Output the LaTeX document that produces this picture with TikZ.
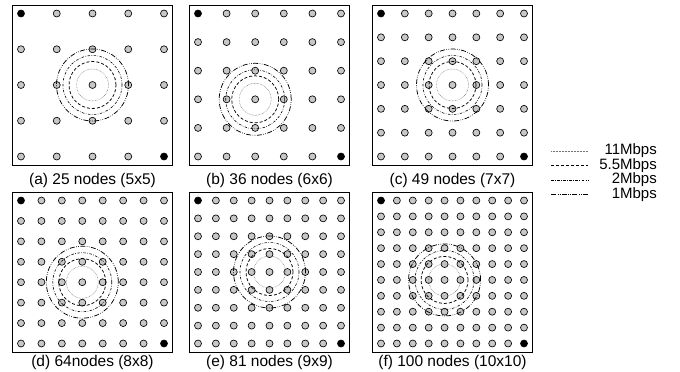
\documentclass[tikz,border=0pt]{standalone}
\usepackage{fontspec}
\setmainfont{Liberation Sans}
\begin{document}
\begin{tikzpicture}[x=1pt,y=-1pt,
  frame/.style={draw=black,line width=0.9pt,minimum size=160pt,inner sep=0pt},
  station/.style={circle,draw=black,fill=black!22,line width=0.65pt,minimum size=7pt,inner sep=0pt},
  endpt/.style={station,fill=black},
  r11/.style={draw=black!55,line width=0.5pt,dash pattern=on 0.6pt off 0.9pt},
  r55/.style={draw=black,line width=0.75pt,dash pattern=on 3pt off 2pt},
  r2/.style={draw=black,line width=0.6pt,dash pattern=on 2.5pt off 1.5pt on 0.6pt off 1.5pt},
  r1/.style={draw=black,line width=0.75pt,dash pattern=on 5pt off 1.5pt on 0.6pt off 1.5pt on 0.6pt off 1.5pt},
  caption/.style={font=\fontsize{15.5}{18}\selectfont,inner sep=0pt},
  legtext/.style={font=\fontsize{15}{16}\selectfont,inner sep=0pt,anchor=east}
]
\useasboundingbox (0,0) rectangle (680,372);

% six square grids of stations with the rate ranges around one station
\foreach \L/\T/\cy/\n/\lab/\cap in {
  12.5/5/180/5/a/{(a) 25 nodes (5x5)},
  189.5/5/180/6/b/{(b) 36 nodes (6x6)},
  372.5/5/180/7/c/{(c) 49 nodes (7x7)},
  12.5/192/362/8/d/{(d) 64nodes (8x8)},
  189.5/192/362/9/e/{(e) 81 nodes (9x9)},
  372.5/192/362/10/f/{(f) 100 nodes (10x10)}} {
  \pgfmathsetmacro\sp{143/(\n-1)}
  \node[frame] (box\lab) at ({\L+80},{\T+80}) {};
  \node[caption] (cap\lab) at ({\L+80},\cy) {\cap};
  \foreach \i in {1,...,\n} {
    \foreach \j in {1,...,\n} {
      \pgfmathtruncatemacro\isend{((\i==1)&&(\j==1))||((\i==\n)&&(\j==\n))}
      \ifnum\isend=1 \def\sty{endpt}\else\def\sty{station}\fi
      \node[\sty] (p\lab-\i-\j) at ({\L+8.5+(\i-1)*\sp},{\T+8.5+(\j-1)*\sp}) {};
    }
  }
  \pgfmathtruncatemacro\cc{floor((\n-1)/2)+1}
  \pgfmathtruncatemacro\rr{ceil((\n-1)/2)+1}
  \draw[r11] (p\lab-\cc-\rr) circle[radius=16pt];
  \draw[r55] (p\lab-\cc-\rr) circle[radius=23.5pt];
  \draw[r2]  (p\lab-\cc-\rr) circle[radius=29.5pt];
  \draw[r1]  (p\lab-\cc-\rr) circle[radius=36pt];
}

% legend
\foreach \k/\y/\sty/\txt in {1/151/r11/11Mbps, 2/165.5/r55/5.5Mbps, 3/180/r2/2Mbps, 4/194.5/r1/1Mbps} {
  \coordinate (ls\k) at (551,\y);
  \coordinate (le\k) at (588,\y);
  \draw[\sty] (ls\k) -- (le\k);
  \node[legtext] (lt\k) at (657,\y) {\txt};
}
\end{tikzpicture}
\end{document}
